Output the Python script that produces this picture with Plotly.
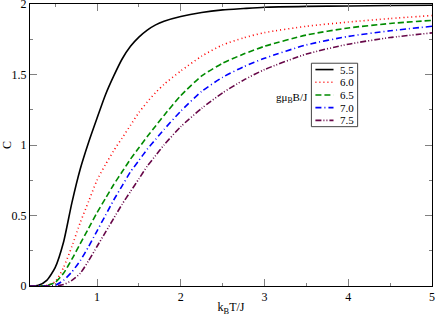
import plotly.graph_objects as go

# Temperature grid (k_B T / J)
temperature = [0.2, 0.3, 0.4, 0.5, 0.6, 0.7, 0.8, 0.9, 1.0, 1.1, 1.2, 1.3, 1.4, 1.5, 1.6, 1.7,
               1.8, 2.0, 2.25, 2.5, 2.75, 3.0, 3.5, 4.0, 4.5, 5.0]

# Specific heat C for each field value g mu_B B / J
c_55 = [0.0, 0.005, 0.04, 0.13, 0.31, 0.59, 0.83, 1.02, 1.19, 1.355, 1.49, 1.61, 1.70, 1.765, 1.815, 1.852,
        1.878, 1.912, 1.94, 1.958, 1.968, 1.977, 1.983, 1.986, 1.989, 1.991]
c_60 = [0.0, 0.0, 0.005, 0.03, 0.13, 0.28, 0.45, 0.60, 0.75, 0.86, 0.96, 1.05, 1.14, 1.23, 1.305, 1.372,
        1.43, 1.525, 1.63, 1.71, 1.76, 1.797, 1.842, 1.872, 1.897, 1.918]
c_65 = [0.0, 0.0, 0.003, 0.025, 0.09, 0.19, 0.30, 0.41, 0.52, 0.62, 0.72, 0.81, 0.90, 0.98, 1.06, 1.135,
        1.21, 1.35, 1.49, 1.58, 1.645, 1.70, 1.78, 1.83, 1.862, 1.884]
c_70 = [0.0, 0.0, 0.0, 0.005, 0.04, 0.10, 0.18, 0.28, 0.39, 0.50, 0.61, 0.71, 0.81, 0.89, 0.97, 1.04,
        1.11, 1.24, 1.38, 1.48, 1.555, 1.615, 1.71, 1.77, 1.81, 1.842]
c_75 = [0.0, 0.0, 0.0, 0.0, 0.01, 0.04, 0.09, 0.18, 0.28, 0.38, 0.48, 0.58, 0.67, 0.76, 0.85, 0.925,
        1.00, 1.13, 1.26, 1.37, 1.46, 1.535, 1.645, 1.715, 1.762, 1.795]

labels = ["5.5", "6.0", "6.5", "7.0", "7.5"]
series = [c_55, c_60, c_65, c_70, c_75]
colors = ["#000000", "#ff0000", "#008b00", "#0000ff", "#670748"]
dashes = ["solid", "1px,3px", "6px,3px", "6px,3px,1px,3px", "6px,2px,1px,2px,1px,2px"]

FONT = "Liberation Serif, Times New Roman, Times, serif"

fig = go.Figure()
for lab, ys, col, dsh in zip(labels, series, colors, dashes):
    fig.add_trace(go.Scatter(x=temperature, y=ys, mode="lines", name=lab,
                             line=dict(color=col, width=1.6, dash=dsh, shape="spline", smoothing=0.6),
                             showlegend=False))

# Manual compact legend (paper coordinates of the plot area)
lx0, lx1 = 0.700, 0.815
ly_top, ly_bot = 0.790, 0.565
fig.add_shape(type="rect", xref="paper", yref="paper", x0=lx0, x1=lx1, y0=ly_bot, y1=ly_top,
              line=dict(color="#444", width=1), fillcolor="white", layer="above")
step = (ly_top - ly_bot) / 5
for i, (lab, col, dsh) in enumerate(zip(labels, colors, dashes)):
    yy = ly_top - step * (i + 0.5)
    fig.add_shape(type="line", xref="paper", yref="paper", x0=lx0 + 0.01, x1=lx0 + 0.055,
                  y0=yy, y1=yy, line=dict(color=col, width=1.6, dash=dsh), layer="above")
    fig.add_annotation(xref="paper", yref="paper", x=lx0 + 0.066, y=yy, text=lab, showarrow=False,
                       xanchor="left", yanchor="middle", font=dict(family=FONT, size=11, color="black"))

fig.add_annotation(xref="paper", yref="paper", x=lx0 - 0.004, y=0.665, text="gμ<sub>B</sub>B/J",
                   showarrow=False, xanchor="right", yanchor="middle",
                   font=dict(family=FONT, size=11, color="black"))

axis_common = dict(showline=True, linecolor="black", linewidth=1, mirror="ticks",
                   ticks="inside", ticklen=7, tickcolor="#808080", tickwidth=1,
                   showgrid=False, zeroline=False, automargin=False,
                   ticklabeloverflow="allow",
                   tickfont=dict(family=FONT, size=12, color="black"))

fig.update_xaxes(range=[0.2, 5], tick0=0, dtick=1,
                 minor=dict(ticks="inside", ticklen=3, dtick=0.5, tick0=0, tickcolor="#808080", showgrid=False),
                 title=dict(text="k<sub>B</sub>T/J", font=dict(family=FONT, size=12, color="black"), standoff=2),
                 **axis_common)
fig.update_yaxes(range=[0, 2], tick0=0, dtick=0.5,
                 minor=dict(ticks="inside", ticklen=3, dtick=0.25, tick0=0, tickcolor="#808080", showgrid=False),
                 title=dict(text="C", font=dict(family=FONT, size=12, color="black"), standoff=8),
                 **axis_common)

fig.update_layout(width=436, height=316, margin=dict(l=30, r=4, t=4, b=30, autoexpand=False),
                  paper_bgcolor="white", plot_bgcolor="white",
                  font=dict(family=FONT, size=12, color="black"))

fig.write_html("out.html", config={"displayModeBar": False},
               post_script="document.body.style.margin='0';document.body.style.overflow='hidden';")
